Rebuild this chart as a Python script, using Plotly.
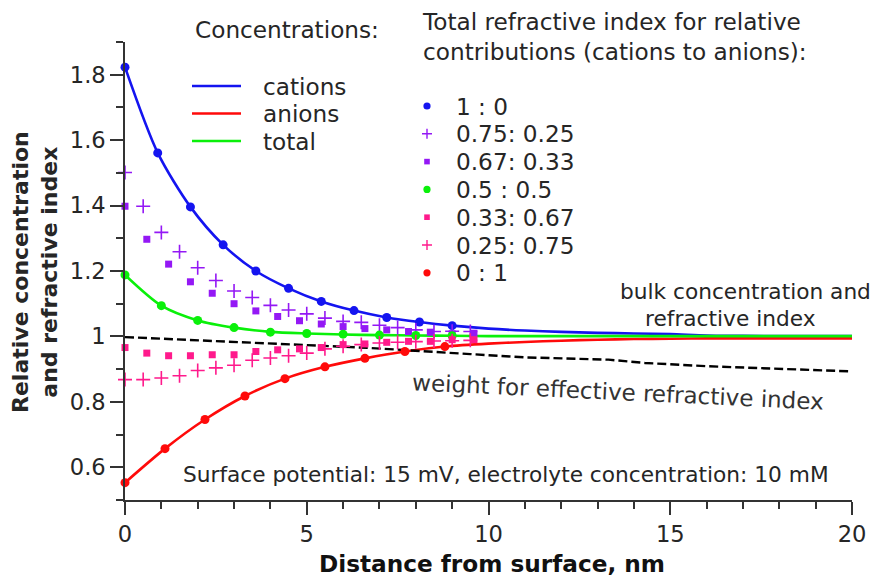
import plotly.graph_objects as go

# ---------------- data ----------------
cat_line_x = [0, 0.9, 1.8, 2.7, 3.6, 4.5, 5.4, 6.3, 7.2, 8.1, 9.0, 10, 11, 12, 13, 14, 15, 16, 17, 18, 20]
cat_line_y = [1.823, 1.561, 1.396, 1.28, 1.2, 1.147, 1.107, 1.079, 1.058, 1.044, 1.033,
              1.024, 1.018, 1.014, 1.011, 1.009, 1.007, 1.003, 1.002, 1.001, 1.001]
an_line_x = [0, 1.1, 2.2, 3.3, 4.4, 5.5, 6.6, 7.7, 8.8, 10, 11, 12, 13, 14, 15, 16, 18, 20]
an_line_y = [0.553, 0.657, 0.746, 0.818, 0.871, 0.907, 0.933, 0.954, 0.969,
             0.978, 0.983, 0.987, 0.99, 0.992, 0.993, 0.994, 0.994, 0.994]
tot_line_x = [0, 1, 2, 3, 4, 5, 6, 7, 8, 9, 10, 12, 14, 16, 18, 20]
tot_line_y = [1.188, 1.094, 1.049, 1.027, 1.014, 1.009, 1.006, 1.004, 1.003, 1.002,
              1.001, 1.001, 1.001, 1.001, 1.001, 1.001]
weight_x = [0, 1.7, 4, 6.7, 9.5, 11, 13.3, 14.3, 16, 17.8, 20]
weight_y = [0.998, 0.99, 0.98, 0.965, 0.946, 0.936, 0.929, 0.919, 0.909, 0.902, 0.893]

r100_x = [0, 0.9, 1.8, 2.7, 3.6, 4.5, 5.4, 6.3, 7.2, 8.1, 9.0]
r100_y = [1.823, 1.561, 1.396, 1.28, 1.2, 1.147, 1.107, 1.079, 1.058, 1.044, 1.033]
r75_x = [0, 0.5, 1, 1.5, 2, 2.5, 3, 3.5, 4, 4.5, 5, 5.5, 6, 6.5, 7, 7.5, 8, 8.5, 9, 9.5]
r75_y = [1.501, 1.398, 1.318, 1.259, 1.21, 1.171, 1.139, 1.119, 1.095, 1.081,
         1.069, 1.056, 1.046, 1.043, 1.034, 1.027, 1.02, 1.015, 1.016, 1.015]
r67_x = [0, 0.6, 1.2, 1.8, 2.4, 3.0, 3.6, 4.2, 4.8, 5.4, 6.0, 6.6, 7.2, 7.8, 8.4, 9.0, 9.6]
r67_y = [1.398, 1.297, 1.221, 1.167, 1.132, 1.1, 1.078, 1.061, 1.048, 1.038,
         1.03, 1.024, 1.02, 1.015, 1.013, 1.008, 1.01]
r50_x = [0, 1, 2, 3, 4, 5, 6, 7, 8, 9]
r50_y = [1.188, 1.094, 1.049, 1.027, 1.013, 1.009, 1.007, 1.004, 1.003, 1.002]
r33_x = [0, 0.6, 1.2, 1.8, 2.4, 3.0, 3.6, 4.2, 4.8, 5.4, 6.0, 6.6, 7.2, 7.8, 8.4, 9.0, 9.6]
r33_y = [0.966, 0.949, 0.941, 0.941, 0.944, 0.944, 0.954, 0.959, 0.962, 0.966,
         0.975, 0.977, 0.982, 0.985, 0.985, 0.99, 0.99]
r25_x = [0, 0.5, 1, 1.5, 2, 2.5, 3, 3.5, 4, 4.5, 5, 5.5, 6, 6.5, 7, 7.5, 8, 8.5, 9, 9.5]
r25_y = [0.868, 0.868, 0.873, 0.88, 0.896, 0.904, 0.912, 0.927, 0.934, 0.941,
         0.949, 0.962, 0.97, 0.975, 0.98, 0.982, 0.984, 0.986, 0.987, 0.988]
r0_x = [0, 1.1, 2.2, 3.3, 4.4, 5.5, 6.6, 7.7, 8.8]
r0_y = [0.553, 0.657, 0.746, 0.818, 0.871, 0.907, 0.933, 0.954, 0.969]

conc_names = ["cations", "anions", "total"]
ratio_names = ["1 : 0", "0.75: 0.25", "0.67: 0.33", "0.5 : 0.5", "0.33: 0.67", "0.25: 0.75", "0 : 1"]

y_tickvals = [0.6, 0.8, 1.0, 1.2, 1.4, 1.6, 1.8]
y_ticktext = ["0.6", "0.8", "1", "1.2", "1.4", "1.6", "1.8"]
x_tickvals = [0, 5, 10, 15, 20]

# ---------------- styles ----------------
BLUE = "#1414f0"
RED = "#ff0a0a"
GREEN = "#0af00a"
PURPLE = "#9418f5"
PINK = "#ff1a8c"
TXT = "#262626"
FONT = "DejaVu Sans"

L, R, T, B = 125, 25, 42, 76
W, H = 877, 576
PW, PH = W - L - R, H - T - B


def pxx(p):
    return (p - L) / PW


def pxy(p):
    return (H - B - p) / PH


fig = go.Figure()

# lines
for x, y, c in [(cat_line_x, cat_line_y, BLUE), (an_line_x, an_line_y, RED), (tot_line_x, tot_line_y, GREEN)]:
    fig.add_trace(go.Scatter(x=x, y=y, mode="lines", line=dict(color=c, width=2.6, shape="spline", smoothing=0.8),
                             showlegend=False, hoverinfo="skip"))
fig.add_trace(go.Scatter(x=weight_x, y=weight_y, mode="lines",
                         line=dict(color="black", width=2.4, dash="9px,4px"), showlegend=False))

# markers
marker_series = [
    (r100_x, r100_y, BLUE, "circle"),
    (r75_x, r75_y, PURPLE, "cross-thin"),
    (r67_x, r67_y, PURPLE, "square"),
    (r50_x, r50_y, GREEN, "circle"),
    (r33_x, r33_y, PINK, "square"),
    (r25_x, r25_y, PINK, "cross-thin"),
    (r0_x, r0_y, RED, "circle"),
]
for (x, y, c, s), name in zip(marker_series, ratio_names):
    if s == "circle":
        mk = dict(color=c, size=9, symbol="circle")
    elif s == "square":
        mk = dict(color=c, size=7, symbol="square")
    else:
        mk = dict(color=c, size=10, symbol="cross-thin", line=dict(color=c, width=1.6))
    fig.add_trace(go.Scatter(x=x, y=y, mode="markers", marker=mk, name=name, showlegend=False, cliponaxis=False))

shapes = []
ann = []


def text(s, x, y, xanchor="left", size=22, angle=0, align="left", bold=False, color=TXT):
    ann.append(dict(text=s, x=pxx(x), y=pxy(y), xref="paper", yref="paper", xanchor=xanchor,
                    yanchor="middle", showarrow=False, align=align, textangle=angle,
                    font=dict(family=FONT, size=size, color=color,
                              weight="bold" if bold else "normal")))


LEG = 23.2
# legend 1 (concentrations)
text("Concentrations:", 193, 30, size=LEG)
for i, (name, c) in enumerate(zip(conc_names, [BLUE, RED, GREEN])):
    yy = 86 + i * 27.5
    shapes.append(dict(type="line", xref="paper", yref="paper", x0=pxx(192), x1=pxx(241),
                       y0=pxy(yy), y1=pxy(yy), line=dict(color=c, width=2.6)))
    text(name, 261, yy, size=LEG)

# legend 2 (ratios)
text("Total refractive index for relative<br>contributions (cations to anions):", 420, 36, size=LEG)
for i, ((x, y, c, s), name) in enumerate(zip(marker_series, ratio_names)):
    yy = 106 + i * 27.8
    base = dict(xref="paper", yref="paper", xsizemode="pixel", ysizemode="pixel",
                xanchor=pxx(427), yanchor=pxy(yy))
    if s == "circle":
        shapes.append(dict(type="circle", x0=-3.6, x1=3.6, y0=-3.6, y1=3.6, fillcolor=c,
                           line=dict(width=0), **base))
    elif s == "square":
        shapes.append(dict(type="rect", x0=-2.8, x1=2.8, y0=-2.8, y1=2.8, fillcolor=c,
                           line=dict(width=0), **base))
    else:
        shapes.append(dict(type="path", path="M-5,0 L5,0 M0,-5 L0,5", line=dict(color=c, width=1.4), **base))
    text(name, 454, yy, size=LEG)

text("bulk concentration and", 873, 291, xanchor="right", size=21.7)
text("refractive index", 643, 318, size=21.7)
text("weight for effective refractive index", 618, 392, xanchor="center", angle=2.7, size=23,
     color="#333333")
text("Surface potential: 15 mV, electrolyte concentration: 10 mM", 506, 474, xanchor="center", size=21.7)

# axis titles
text("Relative concentration<br>and refractive index", 35, 272, xanchor="center", angle=-90,
     align="center", bold=True)
text("Distance from surface, nm", 492, 563, xanchor="center", bold=True, size=23.2, color="#111111")

fig.update_layout(
    width=W, height=H, margin=dict(l=L, r=R, t=T, b=B),
    paper_bgcolor="white", plot_bgcolor="white",
    font=dict(family=FONT, size=22, color=TXT),
    showlegend=False, shapes=shapes, annotations=ann,
    xaxis=dict(range=[0, 20], tickvals=x_tickvals, showline=True, linecolor="#333", linewidth=1.5,
               ticks="outside", ticklen=13, tickwidth=1.5, tickcolor="#333", showgrid=False, zeroline=False,
               minor=dict(dtick=1, ticks="outside", ticklen=7, tickwidth=1.5, tickcolor="#333"),
               tickfont=dict(family=FONT, size=22.6, color=TXT)),
    yaxis=dict(range=[0.5, 1.9], tickvals=y_tickvals, ticktext=y_ticktext, showline=True, linecolor="#333",
               linewidth=1.5, ticks="outside", ticklen=13, tickwidth=1.5, tickcolor="#333", showgrid=False,
               zeroline=False,
               minor=dict(tickvals=[0.5, 0.7, 0.9, 1.1, 1.3, 1.5, 1.7, 1.9], ticks="outside", ticklen=7,
                          tickwidth=1.5, tickcolor="#333"),
               tickfont=dict(family=FONT, size=22.6, color=TXT)),
)

fig.write_html("out.html")
